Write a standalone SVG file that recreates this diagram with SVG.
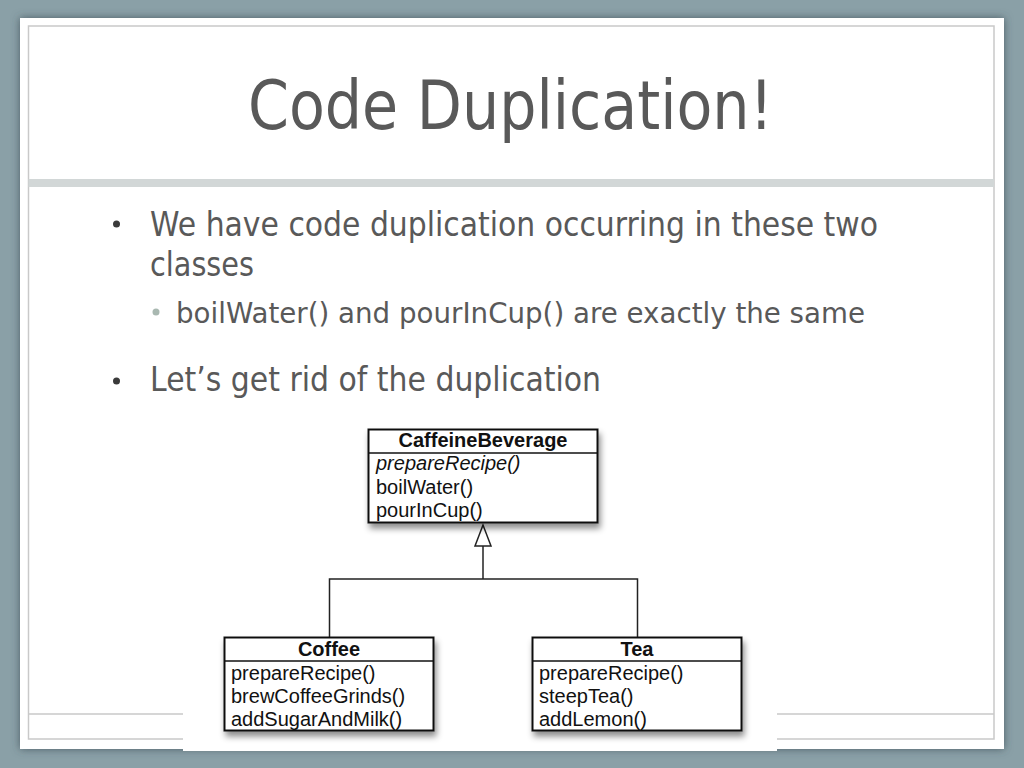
<svg xmlns="http://www.w3.org/2000/svg" width="1024" height="768" viewBox="0 0 1024 768">
<style>
.title{font-family:"DejaVu Sans Condensed","DejaVu Sans",sans-serif;font-size:68px;fill:#595959}
.body{font-family:"DejaVu Sans","Noto Sans",sans-serif;font-size:33px;fill:#595959}
.sub{font-family:"DejaVu Sans","Noto Sans",sans-serif;font-size:28px;fill:#595959}
.box{fill:#fff;stroke:#111;stroke-width:2}
.div{stroke:#111;stroke-width:1.5}
.hdr{font-family:"Liberation Sans",Arial,sans-serif;font-size:20px;font-weight:bold;fill:#111;text-anchor:middle}
.m{font-family:"Liberation Sans",Arial,sans-serif;font-size:20px;fill:#111}
.frame{fill:none;stroke:#c9c9c9;stroke-width:1.5}
.conn{fill:none;stroke:#222;stroke-width:1.5}
</style>
<defs>
<filter id="slideShadow" x="-5%" y="-5%" width="110%" height="110%">
<feDropShadow dx="0" dy="0" stdDeviation="4" flood-color="#3a4c52" flood-opacity="0.8"/>
</filter>
<filter id="boxShadow" x="-10%" y="-10%" width="125%" height="130%">
<feDropShadow dx="2" dy="5" stdDeviation="3" flood-color="#000" flood-opacity="0.45"/>
</filter>
</defs>
<rect x="0" y="0" width="1024" height="768" fill="#8aa0a7"/>
<rect x="20" y="18" width="984" height="731" fill="#ffffff" filter="url(#slideShadow)"/>
<rect x="28.5" y="26" width="965.5" height="713" class="frame"/>
<rect x="28.5" y="179" width="965.5" height="8" fill="#d2d7d7"/>
<line x1="28.5" y1="714" x2="994" y2="714" class="frame"/>
<text x="248" y="129" class="title" textLength="525" lengthAdjust="spacingAndGlyphs">Code Duplication!</text>
<circle cx="116.5" cy="224" r="3.5" fill="#3a3a3a"/>
<text x="150" y="235.5" class="body" textLength="728" lengthAdjust="spacingAndGlyphs">We have code duplication occurring in these two</text>
<text x="150" y="275.5" class="body" textLength="104" lengthAdjust="spacingAndGlyphs">classes</text>
<circle cx="156" cy="312" r="3.5" fill="#a9b8b1"/>
<text x="176" y="322.5" class="sub" textLength="689" lengthAdjust="spacingAndGlyphs">boilWater() and pourInCup() are exactly the same</text>
<circle cx="116.5" cy="381" r="3.5" fill="#3a3a3a"/>
<text x="150" y="391" class="body" textLength="451" lengthAdjust="spacingAndGlyphs">Let’s get rid of the duplication</text>
<rect x="183" y="418" width="594" height="333" fill="#ffffff"/>
<g id="connectors">
<polyline class="conn" points="483,546 483,579"/>
<polyline class="conn" points="329.5,637 329.5,579 637.5,579 637.5,637"/>
<polygon points="483,525 475,546 491,546" fill="#fff" stroke="#222" stroke-width="1.5"/>
</g>
<g id="CaffeineBeverage">
<rect x="368.5" y="429.5" width="229" height="93" class="box" filter="url(#boxShadow)"/>
<line x1="368.5" y1="453" x2="597.5" y2="453" class="div"/>
<text x="483" y="447" class="hdr">CaffeineBeverage</text>
<text x="376" y="470" class="m" font-style="italic">prepareRecipe()</text>
<text x="376" y="494" class="m">boilWater()</text>
<text x="376" y="517" class="m">pourInCup()</text>
</g>
<g id="Coffee">
<rect x="224.5" y="637.5" width="209" height="93" class="box" filter="url(#boxShadow)"/>
<line x1="224.5" y1="661" x2="433.5" y2="661" class="div"/>
<text x="329" y="656" class="hdr">Coffee</text>
<text x="231" y="680" class="m">prepareRecipe()</text>
<text x="231" y="703" class="m">brewCoffeeGrinds()</text>
<text x="231" y="726" class="m">addSugarAndMilk()</text>
</g>
<g id="Tea">
<rect x="532.5" y="637.5" width="209" height="93" class="box" filter="url(#boxShadow)"/>
<line x1="532.5" y1="661" x2="741.5" y2="661" class="div"/>
<text x="637" y="656" class="hdr">Tea</text>
<text x="539" y="680" class="m">prepareRecipe()</text>
<text x="539" y="703" class="m">steepTea()</text>
<text x="539" y="726" class="m">addLemon()</text>
</g>
</svg>
